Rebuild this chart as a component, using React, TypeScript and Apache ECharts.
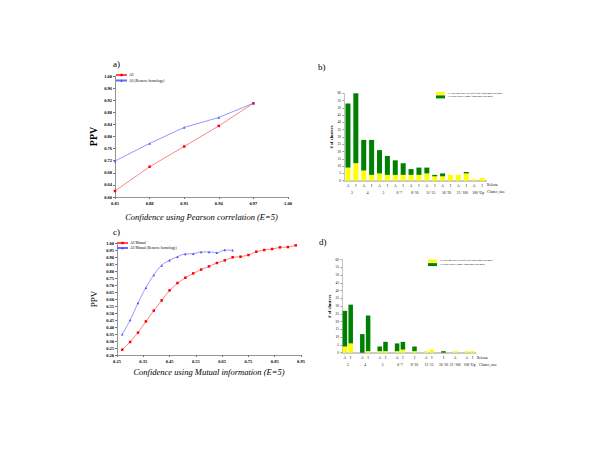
import React, { useEffect, useRef } from 'react';
import * as echarts from 'echarts';

// ---- Panel a: Pearson correlation ----
const aX = [0.85, 0.88, 0.91, 0.94, 0.97];
const aAll = [0.62, 0.70, 0.767, 0.835, 0.91];
const aAllRH = [0.719, 0.777, 0.83, 0.863, 0.91];

// ---- Panel c: Mutual information ----
const cX = [0.27, 0.30, 0.33, 0.36, 0.39, 0.42, 0.45, 0.48, 0.51, 0.54, 0.57, 0.60, 0.63, 0.66, 0.69, 0.72, 0.75, 0.78, 0.81, 0.84, 0.87, 0.90, 0.93];
const cAllMutual = [0.238, 0.293, 0.36, 0.44, 0.517, 0.59, 0.662, 0.714, 0.752, 0.783, 0.81, 0.833, 0.857, 0.876, 0.898, 0.902, 0.914, 0.938, 0.95, 0.957, 0.969, 0.971, 0.983];
const cAllMutualRH = [0.348, 0.45, 0.571, 0.681, 0.771, 0.84, 0.876, 0.902, 0.921, 0.924, 0.936, 0.936, 0.931, 0.95, 0.948];

// ---- Panel b ----
const bRelease = ['A', 'I', 'A', 'I', 'A', 'I', 'A', 'I', 'A', 'I', 'A', 'I', 'A', 'I', 'A', 'I', 'A', 'I'];
const bSize = ['3', '3', '4', '4', '5', '5', '6~7', '6~7', '8~10', '8~10', '11~15', '11~15', '16~20', '16~20', '21~100', '21~100', '100~Up', '100~Up'];
const bYellow = [9, 12, 7, 4, 5, 4, 4, 4, 4, 4, 5, 3, 3, 4, 4, 5, 1, 2];
const bGreen = [44, 48, 21, 24, 16, 13, 10, 8, 4, 5, 4, 1, 2, 0, 0, 1, 0, 0];

// ---- Panel d ----
const dRelease = ['A', 'I', '', 'A', 'I', '', 'A', 'I', '', 'A', 'I', '', 'I', '', 'A', 'I', '', 'I', '', 'A', '', 'A', 'I'];
const dSize = ['3', '3', '', '4', '4', '', '5', '5', '', '6~7', '6~7', '', '8~10', '', '11~15', '11~15', '', '16~20', '', '21~100', '', '100~Up', '100~Up'];
const dYellow = [4, 6, null, 0, 1, null, 1, 1, null, 1, 2, null, 1, null, 1, 2, null, 0, null, 1, null, 1, 1];
const dGreen = [23, 25, null, 12, 23, null, 3, 6, null, 5, 5, null, 3, null, 0, 0, null, 1, null, 0, null, 0, 0];

const yAxisTicksA = { min: 0.6, max: 1.0, interval: 0.04 };
const yAxisTicksC = { min: 0.2, max: 1.0, interval: 0.05 };
const xAxisTicksA = { min: 0.85, max: 1.0, interval: 0.03 };
const xAxisTicksC = { min: 0.25, max: 0.95, interval: 0.1 };
const countTicks = { min: 0, max: 60, interval: 5 };

const bYellowName = 'At least one pair in a different functional category';
const greenName = 'All pairs in the Same functional category';
const dYellowName = 'At least one pair in different functional category';

const FONT = '"Liberation Serif", "DejaVu Serif", serif';
const YELLOW = '#ffff00';
const GREEN = '#008000';

function groupCenters(sizes: string[]) {
  const idx = new Map<string, number[]>();
  sizes.forEach((s, i) => {
    if (!s) return;
    if (!idx.has(s)) idx.set(s, []);
    idx.get(s)!.push(i);
  });
  const out = new Map<number, string>();
  idx.forEach((arr, s) => {
    const c = arr.reduce((a, b) => a + b, 0) / arr.length + 0.5;
    out.set(Math.round(c * 2), s);
  });
  return out;
}

const bCenters = groupCenters(bSize);
const dCenters = groupCenters(dSize);

function lineAxisX(grid: number, ticks: any, name: string, gap: number) {
  return {
    gridIndex: grid, type: 'value', position: 'bottom', ...ticks,
    axisLine: { show: true, lineStyle: { color: '#777', width: 0.8 } },
    axisTick: { show: true, length: 2, lineStyle: { color: '#777' } },
    splitLine: { show: false },
    axisLabel: { formatter: (v: number) => v.toFixed(2), fontSize: 4.5, fontWeight: 'bold', color: '#000', fontFamily: FONT, margin: 4 },
    name, nameLocation: 'middle', nameGap: gap,
    nameTextStyle: { fontSize: 8.5, fontStyle: 'italic', color: '#000', fontFamily: FONT },
  };
}
function lineAxisY(grid: number, ticks: any, bold: boolean, gap: number, size: number) {
  return {
    gridIndex: grid, type: 'value', ...ticks,
    axisLine: { show: true, lineStyle: { color: '#777', width: 0.8 } },
    axisTick: { show: true, length: 2, lineStyle: { color: '#777' } },
    splitLine: { show: false },
    axisLabel: { formatter: (v: number) => v.toFixed(2), fontSize: 4.5, fontWeight: 'bold', color: '#000', fontFamily: FONT, margin: 3 },
    name: 'PPV', nameLocation: 'middle', nameGap: gap,
    nameTextStyle: { fontSize: size, fontWeight: bold ? 'bold' : 'normal', color: '#000', fontFamily: FONT },
  };
}
function relAxis(grid: number, data: string[]) {
  return {
    gridIndex: grid, type: 'category', position: 'bottom', data,
    axisLine: { show: true, lineStyle: { color: '#c8c8c8', width: 2 } },
    axisTick: { show: false },
    axisLabel: { interval: 0, fontSize: 3.6, color: '#000', fontFamily: FONT, margin: 3 },
  };
}
function sizeAxis(grid: number, n: number, centers: Map<number, string>) {
  return {
    gridIndex: grid, type: 'value', position: 'bottom', offset: 0, min: 0, max: n, interval: 0.5,
    axisLine: { show: false }, axisTick: { show: false }, splitLine: { show: false },
    axisLabel: {
      fontSize: 3.6, color: '#000', fontFamily: FONT, margin: 10,
      showMinLabel: true, showMaxLabel: true,
      formatter: (v: number) => centers.get(Math.round(v * 2)) ?? '',
    },
  };
}
function countAxis(grid: number) {
  return {
    gridIndex: grid, type: 'value', ...countTicks,
    axisLine: { show: true, lineStyle: { color: '#999', width: 0.6 } },
    axisTick: { show: true, length: 1.5, lineStyle: { color: '#999' } },
    splitLine: { show: false },
    axisLabel: { fontSize: 3.4, color: '#000', fontFamily: FONT, margin: 3 },
    name: '# of clusters', nameLocation: 'middle', nameGap: 9,
    nameTextStyle: { fontSize: 4.5, fontWeight: 'bold', color: '#000', fontFamily: FONT },
  };
}

const option: any = {
  animation: false,
  backgroundColor: '#fff',
  textStyle: { fontFamily: FONT },
  grid: [
    { left: 115, top: 76, width: 173, height: 121 },
    { left: 117, top: 243, width: 184, height: 112 },
    { left: 344, top: 93.3, width: 142, height: 87.4 },
    { left: 342, top: 259.7, width: 133.4, height: 93 },
  ],
  xAxis: [
    lineAxisX(0, xAxisTicksA, 'Confidence using Pearson correlation (E=5)', 15),
    lineAxisX(1, xAxisTicksC, 'Confidence using Mutual information (E=5)', 12.5),
    relAxis(2, bRelease),
    sizeAxis(2, bRelease.length, bCenters),
    relAxis(3, dRelease),
    sizeAxis(3, dRelease.length, dCenters),
  ],
  yAxis: [
    lineAxisY(0, yAxisTicksA, true, 17, 10),
    lineAxisY(1, yAxisTicksC, false, 19, 9),
    countAxis(2),
    countAxis(3),
  ],
  legend: [
    {
      left: 115, top: 73, orient: 'vertical', padding: 0, itemGap: 1.5,
      itemWidth: 11, itemHeight: 3, data: ['All', 'All (Remove homology)'],
      textStyle: { fontSize: 3.6, color: '#000', fontFamily: FONT, padding: [0, 0, 0, -3] },
    },
    {
      left: 116, top: 241, orient: 'vertical', padding: 0, itemGap: 1,
      itemWidth: 11, itemHeight: 3, data: ['All Mutual', 'All Mutual (Remove homology)'],
      textStyle: { fontSize: 3.6, color: '#000', fontFamily: FONT, padding: [0, 0, 0, -3] },
    },
    {
      left: 436, top: 91.8, orient: 'vertical', padding: 0, itemGap: 0.6, icon: 'rect',
      itemWidth: 9, itemHeight: 3, data: [bYellowName, greenName],
      textStyle: { fontSize: 2.8, color: '#000', fontFamily: FONT, padding: [0, 0, 0, -3] },
    },
    {
      left: 428, top: 259.5, orient: 'vertical', padding: 0, itemGap: 0.6, icon: 'rect',
      itemWidth: 9, itemHeight: 3, data: [dYellowName, greenName],
      textStyle: { fontSize: 2.8, color: '#000', fontFamily: FONT, padding: [0, 0, 0, -3] },
    },
  ],
  series: [
    {
      name: 'All', type: 'line', xAxisIndex: 0, yAxisIndex: 0,
      data: aX.map((x, i) => [x, aAll[i]]),
      symbol: 'rect', symbolSize: 2.5, itemStyle: { color: '#ff0000' },
      lineStyle: { color: '#ff5050', width: 0.7 },
    },
    {
      name: 'All (Remove homology)', type: 'line', xAxisIndex: 0, yAxisIndex: 0,
      data: aX.map((x, i) => [x, aAllRH[i]]),
      symbol: 'triangle', symbolSize: 2.5, itemStyle: { color: '#4a4aff' },
      lineStyle: { color: '#6a6aff', width: 0.7 },
    },
    {
      name: 'All Mutual', type: 'line', xAxisIndex: 1, yAxisIndex: 1,
      data: cX.map((x, i) => [x, cAllMutual[i]]),
      symbol: 'rect', symbolSize: 2.5, itemStyle: { color: '#ff0000' },
      lineStyle: { color: '#ff5050', width: 0.7 },
    },
    {
      name: 'All Mutual (Remove homology)', type: 'line', xAxisIndex: 1, yAxisIndex: 1,
      data: cAllMutualRH.map((y, i) => [cX[i], y]), smooth: true,
      symbol: 'triangle', symbolSize: 2.5, itemStyle: { color: '#4a4aff' },
      lineStyle: { color: '#6a6aff', width: 0.7 },
    },
    {
      name: bYellowName, type: 'bar', xAxisIndex: 2, yAxisIndex: 2, stack: 'b',
      data: bYellow, barWidth: 5, itemStyle: { color: YELLOW },
    },
    {
      name: greenName, type: 'bar', xAxisIndex: 2, yAxisIndex: 2, stack: 'b',
      data: bGreen, barWidth: 5, itemStyle: { color: GREEN },
    },
    {
      name: dYellowName, type: 'bar', xAxisIndex: 4, yAxisIndex: 3, stack: 'd',
      data: dYellow, barWidth: 4.5, itemStyle: { color: YELLOW },
    },
    {
      name: greenName, type: 'bar', xAxisIndex: 4, yAxisIndex: 3, stack: 'd',
      data: dGreen, barWidth: 4.5, itemStyle: { color: GREEN },
    },
  ],
  graphic: [
    { type: 'text', left: 113, top: 59, style: { text: 'a)', fontSize: 9, fontFamily: FONT, fill: '#000' } },
    { type: 'text', left: 113, top: 227, style: { text: 'c)', fontSize: 9, fontFamily: FONT, fill: '#000' } },
    { type: 'text', left: 318, top: 62, style: { text: 'b)', fontSize: 9, fontFamily: FONT, fill: '#000' } },
    { type: 'text', left: 319, top: 237, style: { text: 'd)', fontSize: 9, fontFamily: FONT, fill: '#000' } },
    { type: 'text', left: 487, top: 183, style: { text: 'Release', fontSize: 3.6, fontFamily: FONT, fill: '#000' } },
    { type: 'text', left: 487, top: 190, style: { text: 'Cluster_size', fontSize: 3.6, fontFamily: FONT, fill: '#000' } },
    { type: 'text', left: 477, top: 355.5, style: { text: 'Release', fontSize: 3.6, fontFamily: FONT, fill: '#000' } },
    { type: 'text', left: 479, top: 362.5, style: { text: 'Cluster_size', fontSize: 3.6, fontFamily: FONT, fill: '#000' } },
  ],
};

export default function App() {
  const ref = useRef<HTMLDivElement>(null);
  useEffect(() => {
    const chart = echarts.init(ref.current!, null, { renderer: 'svg' });
    chart.setOption(option);
    return () => chart.dispose();
  }, []);
  return (
    <div
      ref={ref}
      style={{ position: 'absolute', left: 0, top: 0, width: 600, height: 464, background: '#fff' }}
    />
  );
}
